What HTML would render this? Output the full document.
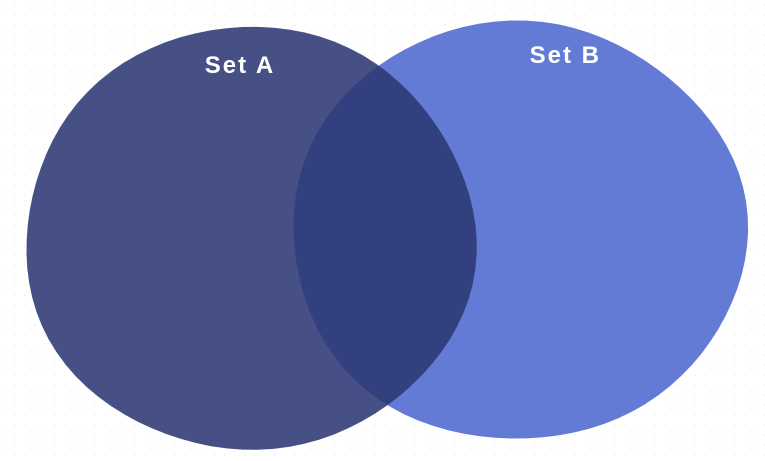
<!DOCTYPE html>
<html><head><meta charset="utf-8"><style>
html,body{margin:0;padding:0;background:#fff;}
svg{display:block;}
text{font-family:"Liberation Sans",sans-serif;font-weight:bold;fill:#fff;letter-spacing:2px;}
</style></head><body>
<svg id="chart" width="765" height="461" viewBox="0 0 765 461">
<defs><pattern id="dots" width="10" height="10" patternUnits="userSpaceOnUse"><circle cx="5" cy="5" r="0.8" fill="#ececf0"/></pattern></defs>
<rect width="765" height="461" fill="url(#dots)"/>
<g id="g"></g>
</svg>
<script>
const setLabels = ['Set A', 'Set B'];
const setSizes = [100, 100];
const overlapSize = 40;

const NS = 'http://www.w3.org/2000/svg';
const g = document.getElementById('g');
const k = 22.5;
const rA = k * Math.sqrt(setSizes[0]);
const rB = k * Math.sqrt(setSizes[1]) * 1.01;
const d = (rA + rB) * (1 - overlapSize / Math.min(setSizes[0], setSizes[1]));
const cxA = 250, cy = 237;
const cxB = cxA + d - 3;
function blob(cx, cyy, rx, ry, seed) {
  let p = '';
  const n = 90;
  for (let i = 0; i <= n; i++) {
    const t = i / n * Math.PI * 2;
    const w = 1 + 0.008 * Math.sin(3 * t + seed) + 0.006 * Math.sin(5 * t + seed * 2);
    const x = cx + rx * w * Math.cos(t), y = cyy + ry * w * Math.sin(t);
    p += (i ? 'L' : 'M') + x.toFixed(1) + ',' + y.toFixed(1);
  }
  return p + 'Z';
}
const pB = document.createElementNS(NS, 'path');
pB.setAttribute('d', blob(cxB, cy - 6, rB, rB * 0.92, 1.3));
pB.setAttribute('fill', '#647bd6');


g.appendChild(pB);
const pA = document.createElementNS(NS, 'path');
pA.setAttribute('d', blob(cxA, cy + 2, rA, rA * 0.94, 0.4));
pA.setAttribute('fill', '#2c3873');
pA.setAttribute('fill-opacity', '0.88');


g.appendChild(pA);
const lx = [cxA - 10, cxB + 47], ly = [73, 63];
setLabels.forEach((s, i) => {
  const t = document.createElementNS(NS, 'text');
  t.setAttribute('x', lx[i]); t.setAttribute('y', ly[i]);
  t.setAttribute('text-anchor', 'middle');
  t.setAttribute('font-size', '24');
  t.textContent = s;
  
  
  g.appendChild(t);
});
</script>
</body></html>
